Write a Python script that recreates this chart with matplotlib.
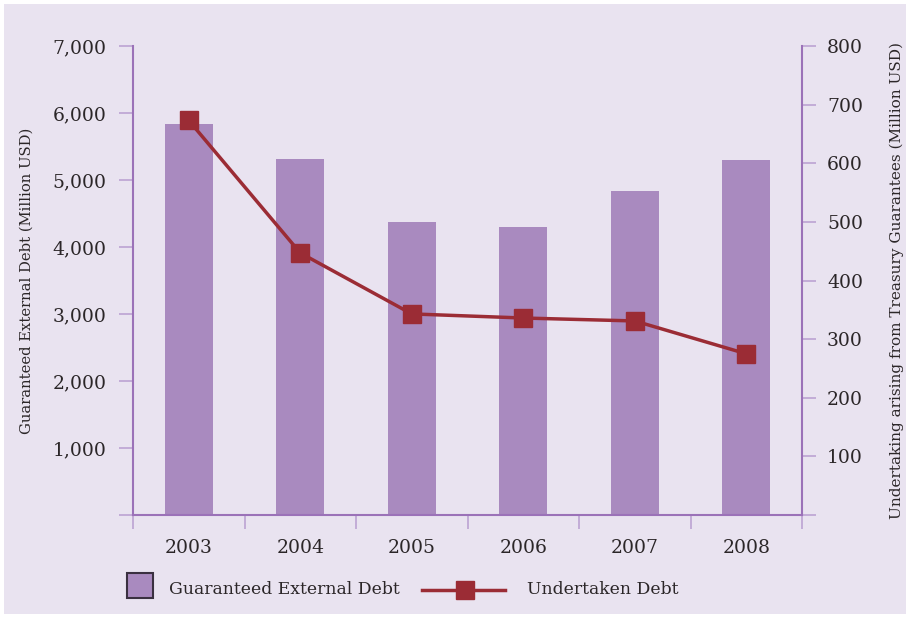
import matplotlib
matplotlib.use("Agg")
import matplotlib.pyplot as plt
from matplotlib.patches import Rectangle
from matplotlib.lines import Line2D
from matplotlib.ticker import FuncFormatter

years = ["2003", "2004", "2005", "2006", "2007", "2008"]
guaranteed_debt = [5840, 5320, 4380, 4300, 4830, 5300]
undertaken_debt = [673, 447, 343, 336, 331, 275]
left_ticks = [0, 1000, 2000, 3000, 4000, 5000, 6000, 7000]
right_ticks = [0, 100, 200, 300, 400, 500, 600, 700, 800]

BG = "#E9E3F0"
BAR = "#A98ABF"
SPINE = "#9B72B8"
TICK = "#BCA3D2"
LINE = "#9B2C35"
TXT = "#2B2628"

plt.rcParams['font.family'] = ['DejaVu Serif']

W, H = 910, 618
fig = plt.figure(figsize=(9.1, 6.18), dpi=100, facecolor="white")
fig.patches.append(Rectangle((4/W, 4/H), 1 - 8/W, 1 - 8/H, transform=fig.transFigure,
                             facecolor=BG, edgecolor="none", zorder=-10))

ax = fig.add_axes([133/W, 1 - 515/H, (802 - 133)/W, (515 - 46)/H])
ax.set_facecolor("none")
x = list(range(len(years)))
ax.bar(x, guaranteed_debt, width=0.43, color=BAR, zorder=2)
ax.set_xlim(-0.5, len(years) - 0.5)
ax.set_ylim(0, 7000)
ax.set_yticks(left_ticks)
ax.yaxis.set_major_formatter(FuncFormatter(lambda v, p: "" if v == 0 else f"{int(v):,}"))
ax.set_xticks([i - 0.5 for i in range(len(years) + 1)])
ax.set_xticklabels([])
ax.set_xticks(x, minor=True)
ax.set_xticklabels(years, minor=True)
ax.tick_params(axis='x', which='major', length=10, width=1.2, color=TICK, direction='out')
ax.tick_params(axis='x', which='minor', length=0, pad=17, labelsize=13.5, labelcolor=TXT)
ax.tick_params(axis='y', length=10, width=1.2, color=TICK, pad=9, labelsize=13.5, labelcolor=TXT)
for s in ["top", "right"]:
    ax.spines[s].set_visible(False)
for s in ["left", "bottom"]:
    ax.spines[s].set_color(SPINE)
    ax.spines[s].set_linewidth(1.5)
ax.set_ylabel("Guaranteed External Debt (Million USD)", fontsize=10.6, color=TXT, labelpad=14)

ax2 = ax.twinx()
ax2.plot(x, undertaken_debt, color=LINE, linewidth=2.5, marker="s", markersize=12.5,
         markerfacecolor=LINE, markeredgecolor=LINE, zorder=3)
ax2.set_ylim(0, 800)
ax2.set_yticks(right_ticks)
ax2.yaxis.set_major_formatter(FuncFormatter(lambda v, p: "" if v == 0 else f"{int(v)}"))
ax2.tick_params(axis='y', length=10, width=1.2, color=TICK, pad=8, labelsize=13.5, labelcolor=TXT)
for s in ["top", "left", "bottom"]:
    ax2.spines[s].set_visible(False)
ax2.spines["right"].set_color(SPINE)
ax2.spines["right"].set_linewidth(1.5)
ax2.set_ylabel("Undertaking arising from Treasury Guarantees (Million USD)", fontsize=11,
               color=TXT, labelpad=19)

# Legend drawn in figure pixel coordinates
def fx(px):
    return px / W

def fy(py):
    return 1 - py / H

ly = 590
fig.patches.append(Rectangle((fx(127), fy(598)), 26/W, 25/H, transform=fig.transFigure,
                             facecolor=BAR, edgecolor="#3a3040", linewidth=1.5))
fig.text(fx(169), fy(ly), "Guaranteed External Debt", fontsize=12.4, color=TXT,
         va="center", ha="left")
fig.add_artist(Line2D([fx(422), fx(505)], [fy(ly), fy(ly)], transform=fig.transFigure,
                      color=LINE, linewidth=2.5))
fig.add_artist(Line2D([fx(465)], [fy(ly)], transform=fig.transFigure, color=LINE,
                      marker="s", markersize=12.5, linestyle="none"))
fig.text(fx(527), fy(ly), "Undertaken Debt", fontsize=12.4, color=TXT, va="center", ha="left")

fig.savefig("out.png", dpi=100, facecolor="white")
